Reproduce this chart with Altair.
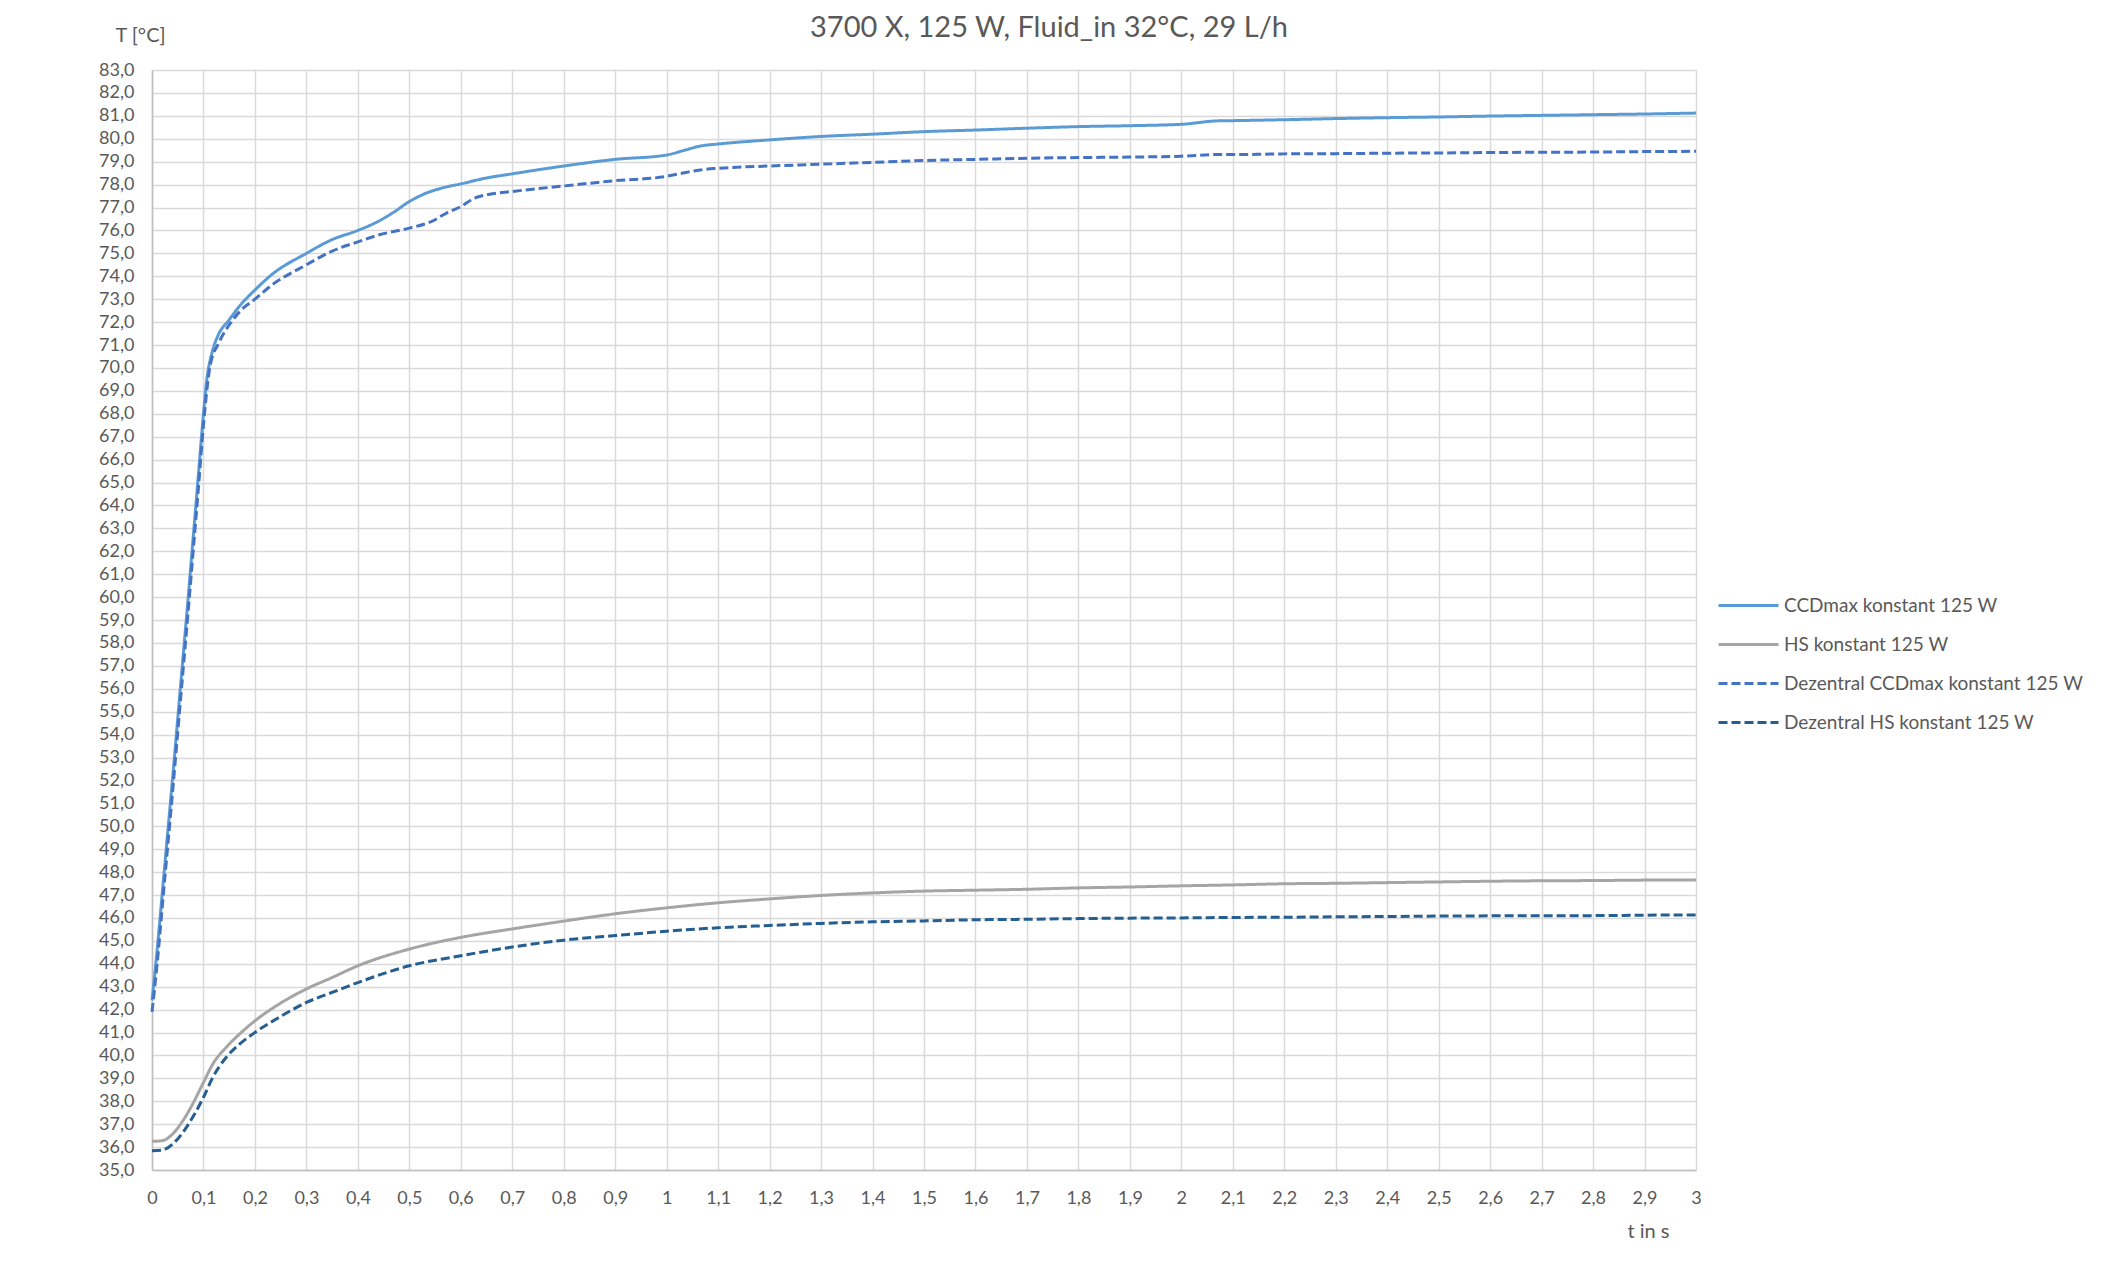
import altair as alt
import pandas as pd

# ---------------- data ----------------
series_names = [
    "CCDmax konstant 125 W",
    "HS konstant 125 W",
    "Dezentral CCDmax konstant 125 W",
    "Dezentral HS konstant 125 W",
]
series_colors = ["#5B9BD5", "#A5A5A5", "#4472C4", "#255E91"]
series_dash = [[1, 0], [1, 0], [9, 4], [9, 4]]

t_ccd = [0, 0.01, 0.02, 0.03, 0.04, 0.05, 0.06, 0.07, 0.08, 0.09, 0.1,
         0.106, 0.117, 0.128, 0.15, 0.172, 0.2, 0.232, 0.3, 0.35, 0.4, 0.44, 0.47, 0.5,
         0.53, 0.567, 0.6, 0.648, 0.7, 0.8, 0.9, 1.0, 1.035, 1.065, 1.1,
         1.2, 1.3, 1.4, 1.5, 1.6, 1.7, 1.8, 1.9, 2.0,
         2.07, 2.1,
         2.2, 2.3, 2.4, 2.5, 2.6, 2.7, 2.8, 2.9, 3.0]
T_ccd = [42.4, 44.6, 47.1, 49.6, 52.1, 54.7, 57.3, 59.9, 62.6, 65.3, 68.0,
         69.4, 70.7, 71.4, 72.1, 72.75, 73.4, 74.06, 75.0, 75.6, 76.0, 76.4, 76.8, 77.26,
         77.6, 77.87, 78.03, 78.28, 78.47, 78.81, 79.1, 79.29, 79.5, 79.68, 79.77,
         79.95, 80.1, 80.2, 80.31, 80.38, 80.46, 80.53, 80.57, 80.63,
         80.78, 80.79,
         80.83, 80.88, 80.92, 80.95, 80.99, 81.02, 81.05, 81.08, 81.12]

t_dccd = [0, 0.01, 0.02, 0.03, 0.04, 0.05, 0.06, 0.07, 0.08, 0.09, 0.1,
          0.106, 0.113, 0.13, 0.154, 0.172, 0.2, 0.232, 0.3, 0.35, 0.4, 0.44, 0.5,
          0.544, 0.574, 0.6, 0.626, 0.656, 0.7, 0.8, 0.9, 1.0, 1.035, 1.065, 1.1,
          1.2, 1.3, 1.4, 1.5, 1.6, 1.7, 1.8, 1.9, 2.0,
          2.07, 2.1,
          2.2, 2.3, 2.4, 2.5, 2.6, 2.7, 2.8, 2.9, 3.0]
T_dccd = [41.9, 44.0, 46.5, 49.0, 51.5, 54.1, 56.7, 59.3, 62.0, 64.7, 67.5,
          68.9, 70.1, 71.1, 72.0, 72.5, 73.0, 73.6, 74.5, 75.1, 75.5, 75.8, 76.1,
          76.4, 76.78, 77.04, 77.4, 77.58, 77.7, 77.94, 78.17, 78.36, 78.52, 78.64, 78.71,
          78.81, 78.89, 78.97, 79.05, 79.1, 79.15, 79.18, 79.2, 79.24,
          79.31, 79.31,
          79.34, 79.35, 79.37, 79.38, 79.4, 79.41, 79.42, 79.44, 79.45]

t_hs = [0, 0.02, 0.04, 0.06, 0.079, 0.1, 0.118, 0.144, 0.17, 0.2, 0.247, 0.3, 0.35, 0.4,
        0.5, 0.6, 0.7, 0.8, 0.9, 1.0, 1.1, 1.2, 1.3, 1.4, 1.5, 1.6, 1.7, 1.8, 1.9, 2.0,
        2.1, 2.2, 2.3, 2.4, 2.5, 2.6, 2.7, 2.8, 2.9, 3.0]
T_hs = [36.25, 36.28, 36.57, 37.15, 37.88, 38.82, 39.62, 40.35, 40.93, 41.51, 42.24, 42.9, 43.4, 43.91,
        44.64, 45.15, 45.52, 45.86, 46.18, 46.44, 46.66, 46.83, 46.98, 47.09, 47.17, 47.21, 47.25, 47.31, 47.35, 47.4,
        47.44, 47.49, 47.51, 47.54, 47.57, 47.6, 47.62, 47.63, 47.65, 47.66]

t_dhs = list(t_hs)
T_dhs = [35.84, 35.87, 36.13, 36.64, 37.3, 38.17, 39.04, 39.91, 40.49, 41.0, 41.66, 42.31, 42.75, 43.18,
         43.91, 44.35, 44.73, 45.03, 45.23, 45.42, 45.57, 45.67, 45.76, 45.83, 45.87, 45.92, 45.94, 45.97, 45.99, 46.0,
         46.02, 46.03, 46.05, 46.06, 46.08, 46.09, 46.1, 46.1, 46.12, 46.13]

x_ticks = [round(i * 0.1, 1) for i in range(31)]
y_ticks = list(range(35, 84))

# ---------------- build table ----------------
frames = []
for name, ts, Ts in zip(series_names, [t_ccd, t_hs, t_dccd, t_dhs], [T_ccd, T_hs, T_dccd, T_dhs]):
    df = pd.DataFrame({"t": ts, "T": Ts})
    df["series"] = name
    df["order"] = range(len(df))
    frames.append(df)
data = pd.concat(frames, ignore_index=True)

FONT = "Lato"
TXT = "#595959"


def make_legend():
    return alt.Legend(
        title=None,
        orient="none",
        legendX=1585,
        legendY=524,
        direction="vertical",
        symbolType="M-3,0H3",
        symbolSize=400,
        symbolStrokeWidth=3,
        labelOffset=24,
        rowPadding=17,
        padding=0,
        labelFont=FONT,
        labelFontSize=19,
        labelColor=TXT,
        labelLimit=500,
    )


chart = (
    alt.Chart(data)
    .mark_line(strokeWidth=3, interpolate="monotone")
    .encode(
        x=alt.X(
            "t:Q",
            scale=alt.Scale(domain=[0, 3], nice=False, zero=False),
            axis=alt.Axis(
                values=x_ticks,
                labelExpr="replace(format(datum.value, '.1~f'), '.', ',')",
                labelFlush=False,
                title="t in s",
                titleAngle=0,
                titleX=1496,
                titleY=61,
                titleAlign="center",
                titleBaseline="middle",
                labelPadding=19,
            ),
        ),
        y=alt.Y(
            "T:Q",
            scale=alt.Scale(domain=[35, 83], nice=False, zero=False),
            axis=alt.Axis(
                values=y_ticks,
                labelExpr="replace(format(datum.value, '.1f'), '.', ',')",
                labelFlush=False,
                title="T [°C]",
                titleAngle=0,
                titleX=-12,
                titleY=-35,
                titleAlign="center",
                titleBaseline="middle",
                labelPadding=18,
            ),
        ),
        color=alt.Color(
            "series:N",
            scale=alt.Scale(domain=series_names, range=series_colors),
            legend=make_legend(),
        ),
        strokeDash=alt.StrokeDash(
            "series:N",
            scale=alt.Scale(domain=series_names, range=series_dash),
            legend=make_legend(),
        ),
        order="order:Q",
        detail="series:N",
    )
    .properties(
        width=1544,
        height=1100,
        autosize=alt.AutoSizeParams(type="none"),
        padding={"left": 144, "top": 62, "right": 400, "bottom": 80},
        title=alt.TitleParams(
            text="3700 X, 125 W, Fluid_in 32°C, 29 L/h",
            font=FONT,
            fontSize=29,
            fontWeight="normal",
            color=TXT,
            anchor="middle",
            dx=125,
            dy=18,
            offset=0,
        ),
    )
    .configure_view(stroke=None)
    .configure_axis(
        ticks=False,
        tickSize=0,
        domainColor="#BFBFBF",
        domainWidth=1.5,
        gridColor="#D9D9D9",
        gridWidth=1.5,
        labelFont=FONT,
        labelFontSize=18,
        labelColor=TXT,
        titleFont=FONT,
        titleFontSize=20,
        titleFontWeight="normal",
        titleColor=TXT,
    )
)

chart.save("out.html", embed_options={"renderer": "svg", "actions": False})
